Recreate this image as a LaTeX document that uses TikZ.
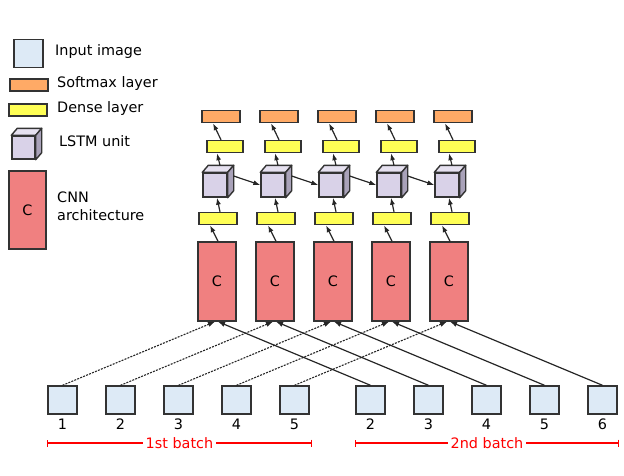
\documentclass[tikz,border=0pt]{standalone}
\usepackage{fontspec}
\setmainfont{DejaVu Sans}
\usepackage{tikz}
\usetikzlibrary{arrows.meta}
\definecolor{Frame}{HTML}{333333}
\definecolor{InBlue}{HTML}{DDEAF6}
\definecolor{SoftOrange}{HTML}{FFAA66}
\definecolor{DenseYellow}{HTML}{FFFF55}
\definecolor{CellFront}{HTML}{D9D2E8}
\definecolor{CellTop}{HTML}{E6E1F0}
\definecolor{CellSide}{HTML}{A9A2B9}
\definecolor{CnnRed}{HTML}{F08080}
\definecolor{BatchRed}{HTML}{FF0000}

% top and side faces of an LSTM cube
\newcommand\cellfaces[1]{%
  \draw[face, fill=CellTop] (#1.north west) -- ++(6,-7) -- ([shift={(6,-7)}]#1.north east) -- (#1.north east) -- cycle;
  \draw[face, fill=CellSide] (#1.north east) -- ++(6,-7) -- ([shift={(6,-7)}]#1.south east) -- (#1.south east) -- cycle;
}

\begin{document}
\begin{tikzpicture}[x=1pt, y=-1pt, >={Latex[length=7pt,width=5pt]},
    font=\fontsize{14.4}{17}\selectfont,
    box/.style={draw=Frame, line width=1.4pt, inner sep=0pt},
    face/.style={draw=Frame, line width=1.4pt, line join=round},
    inbox/.style={box, fill=InBlue, minimum width=29pt, minimum height=28pt},
    smbox/.style={box, fill=SoftOrange, minimum width=38pt, minimum height=12pt},
    dnbox/.style={box, fill=DenseYellow, minimum width=38pt, minimum height=12pt},
    cellbox/.style={box, fill=CellFront, minimum size=24pt},
    cnnbox/.style={box, fill=CnnRed, minimum width=38pt, minimum height=79pt},
    link/.style={->, line width=1.2pt, black!85},
    dlink/.style={->, line width=1.1pt, black!85, dash pattern=on 2pt off 1.2pt},
    lbl/.style={anchor=west, inner sep=0pt},
    batch/.style={BatchRed, line width=1.3pt, {Bar[width=7pt]}-{Bar[width=7pt]}}]
  \useasboundingbox (0,0) rectangle (624,475);

  % legend
  \node[inbox] (lgin) at (28.5,53.5) {};
  \node[lbl] (lgintx) at (55,51.5) {Input image};
  \node[smbox] (lgsm) at (29,85) {};
  \node[lbl] (lgsmtx) at (57,83.5) {Softmax layer};
  \node[dnbox] (lgdn) at (28,110) {};
  \node[lbl] (lgdntx) at (57,109) {Dense layer};
  \node[cellbox, minimum size=23pt] (lgcell) at (23.5,147.5) {};
  \cellfaces{lgcell}
  \node[lbl] (lgcelltx) at (59,141) {LSTM unit};
  \node[cnnbox, minimum width=37pt, minimum height=78pt] (lgcnn) at (27.5,210) {C};
  \node[lbl, align=left, font=\fontsize{14.4}{18}\selectfont] (lgcnntx) at (57,206) {CNN\\architecture};

  % columns
  \foreach \i in {1,...,5}{
    \pgfmathsetmacro\cx{159+58*\i}
    \node[cnnbox] (cnn\i) at (\cx,281.5) {C};
    \node[dnbox] (dl\i) at (\cx+1,218.5) {};
    \node[cellbox] (cell\i) at (\cx-2,185) {};
    \cellfaces{cell\i}
    \node[dnbox, minimum width=36pt] (du\i) at (\cx+8,146.5) {};
    \node[smbox] (sm\i) at (\cx+4,116.5) {};
    \draw[link] ([xshift=1pt]cnn\i.north) -- ([xshift=-8pt]dl\i.south);
    \draw[link] ([xshift=2pt]dl\i.north) -- ([xshift=2pt]cell\i.south);
    \draw[link] ([xshift=5pt,yshift=7pt]cell\i.north) -- ([xshift=-8pt]du\i.south);
    \draw[link] ([xshift=-4pt]du\i.north) -- ([xshift=-8pt]sm\i.south);
  }
  \foreach \i [evaluate=\i as \j using int(\i+1)] in {1,...,4}
    \draw[link] ([xshift=6pt,yshift=9pt]cell\i.east) -- (cell\j.west);

  % input images
  \foreach \k [evaluate=\k as \n using int(\k+1)] in {1,...,5}{
    \node[inbox] (ia\k) at (4.5+58*\k,400) {};
    \node (na\k) at (4.5+58*\k,424) {\k};
    \node[inbox] (ib\k) at (312.5+58*\k,400) {};
    \node (nb\k) at (312.5+58*\k,424) {\n};
  }
  \foreach \k in {1,...,5}{
    \draw[dlink] (ia\k.north) -- ([xshift=-2pt]cnn\k.south);
    \draw[link] (ib\k.north) -- ([xshift=1pt]cnn\k.south);
  }

  % batches
  \coordinate (b1l) at (47,443);
  \coordinate (b1r) at (312,443);
  \coordinate (b2l) at (355,443);
  \coordinate (b2r) at (619,443);
  \draw[batch] (b1l) -- node[fill=white, text=BatchRed, inner xsep=3pt, inner ysep=1pt] (bt1) {1st batch} (b1r);
  \draw[batch] (b2l) -- node[fill=white, text=BatchRed, inner xsep=3pt, inner ysep=1pt] (bt2) {2nd batch} (b2r);
\end{tikzpicture}
\end{document}
